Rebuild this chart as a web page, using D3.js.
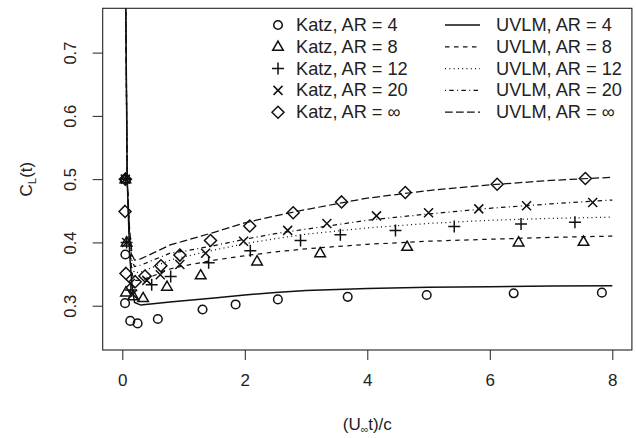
<!DOCTYPE html>
<html>
<head>
<meta charset="utf-8">
<script src="https://cdn.jsdelivr.net/npm/d3@7"></script>
<style>
  html, body { margin: 0; padding: 0; background: #fff; }
  svg { display: block; font-family: "Liberation Sans", Arial, Helvetica, sans-serif; }
</style>
</head>
<body>
<svg id="chart" width="636" height="438"></svg>
<script>
// ---------- data ----------
const xTicks = [0, 2, 4, 6, 8];
const yTicks = [0.3, 0.4, 0.5, 0.6, 0.7];

// Katz reference points
const katzAR4 = [[0.05,0.5],[0.05,0.381],[0.045,0.304],[0.13,0.276],[0.25,0.272],[0.58,0.279],[1.31,0.294],[1.85,0.302],[2.54,0.31],[3.68,0.314],[4.97,0.317],[6.39,0.3196],[7.83,0.3206]];
const katzAR8 = [[0.05,0.5],[0.07,0.40],[0.06,0.321],[0.18,0.315],[0.34,0.312],[0.73,0.330],[1.28,0.348],[2.2,0.370],[3.23,0.383],[4.65,0.393],[6.47,0.40],[7.53,0.401]];
const katzAR12 = [[0.05,0.5],[0.07,0.40],[0.14,0.325],[0.48,0.333],[0.79,0.346],[1.41,0.368],[2.09,0.387],[2.91,0.403],[3.56,0.412],[4.46,0.419],[5.42,0.425],[6.51,0.429],[7.39,0.432]];
const katzAR20 = [[0.05,0.5],[0.07,0.40],[0.13,0.335],[0.17,0.318],[0.4,0.34],[0.62,0.349],[0.94,0.365],[1.36,0.383],[1.98,0.402],[2.7,0.419],[3.34,0.43],[4.15,0.442],[5.0,0.447],[5.82,0.453],[6.6,0.458],[7.68,0.463]];
const katzARinf = [[0.05,0.5],[0.045,0.449],[0.06,0.351],[0.21,0.338],[0.37,0.347],[0.63,0.363],[0.94,0.38],[1.44,0.403],[2.08,0.426],[2.79,0.447],[3.58,0.464],[4.62,0.479],[6.12,0.492],[7.56,0.501]];

// UVLM curves (shared time grid)
const uvlmT     = [0.05, 0.08, 0.12, 0.16, 0.2, 0.3, 0.5, 0.78, 1, 1.5, 2, 2.5, 3, 4, 5, 6, 7, 8];
const uvlmAR4   = [0.85, 0.50, 0.38, 0.33, 0.305, 0.301, 0.303, 0.306, 0.308, 0.312, 0.317, 0.321, 0.324, 0.327, 0.329, 0.330, 0.331, 0.3316];
const uvlmAR8   = [0.85, 0.50, 0.39, 0.35, 0.340, 0.340, 0.347, 0.358, 0.363, 0.372, 0.379, 0.385, 0.390, 0.397, 0.402, 0.405, 0.408, 0.410];
const uvlmAR12  = [0.85, 0.50, 0.40, 0.36, 0.352, 0.353, 0.361, 0.372, 0.377, 0.388, 0.398, 0.406, 0.413, 0.423, 0.430, 0.435, 0.438, 0.440];
const uvlmAR20  = [0.85, 0.50, 0.41, 0.37, 0.362, 0.364, 0.372, 0.383, 0.386, 0.395, 0.405, 0.414, 0.421, 0.435, 0.445, 0.454, 0.461, 0.467];
const uvlmARinf = [0.85, 0.50, 0.42, 0.38, 0.372, 0.374, 0.383, 0.396, 0.402, 0.416, 0.431, 0.442, 0.452, 0.470, 0.482, 0.491, 0.498, 0.503];

const katzLabels = ["Katz, AR = 4", "Katz, AR = 8", "Katz, AR = 12", "Katz, AR = 20", "Katz, AR = \u221E"];
const uvlmLabels = ["UVLM, AR = 4", "UVLM, AR = 8", "UVLM, AR = 12", "UVLM, AR = 20", "UVLM, AR = \u221E"];
const markerTypes = ["circle", "triangle", "plus", "cross", "diamond"];
const dashTypes = [null, "4.5,4.5", "1,3.3", "1,3.3,4.5,3.3", "7.7,3.3"];

// ---------- layout ----------
const svg = d3.select("#chart");
const L = 102.7, R = 631.9, T = 8.3, B = 350;
const x = d3.scaleLinear().domain([-0.32, 8.32]).range([L, R]);
const y = d3.scaleLinear().domain([0.23, 0.77]).range([B, T]);

svg.append("defs").append("clipPath").attr("id", "clip")
  .append("rect").attr("x", L).attr("y", T).attr("width", R - L).attr("height", B - T);

// marker drawing
function marker(g, type, cx, cy) {
  const s = g.append("path").attr("fill", "none").attr("stroke", "#111").attr("stroke-width", 1.5);
  let d;
  if (type === "circle") {
    const r = 4.3;
    d = `M${cx - r},${cy} a${r},${r} 0 1,0 ${2 * r},0 a${r},${r} 0 1,0 ${-2 * r},0Z`;
  } else if (type === "triangle") {
    const w = 5.3, hTop = 5.7, hBot = 3.5;
    d = `M${cx},${cy - hTop} L${cx + w},${cy + hBot} L${cx - w},${cy + hBot}Z`;
  } else if (type === "plus") {
    const a = 6;
    d = `M${cx - a},${cy} H${cx + a} M${cx},${cy - a} V${cy + a}`;
  } else if (type === "cross") {
    const a = 4.5;
    d = `M${cx - a},${cy - a} L${cx + a},${cy + a} M${cx - a},${cy + a} L${cx + a},${cy - a}`;
  } else {
    const a = 6;
    d = `M${cx},${cy - a} L${cx + a},${cy} L${cx},${cy + a} L${cx - a},${cy}Z`;
  }
  s.attr("d", d);
}

// ---------- lines ----------
const uvlmSeries = [uvlmAR4, uvlmAR8, uvlmAR12, uvlmAR20, uvlmARinf];
const line = d3.line().x(d => x(d[0])).y(d => y(d[1]));
const plot = svg.append("g").attr("clip-path", "url(#clip)");
uvlmSeries.forEach((vals, i) => {
  plot.append("path")
    .attr("d", line(uvlmT.map((t, k) => [t, vals[k]])))
    .attr("fill", "none")
    .attr("stroke", "#111")
    .attr("stroke-width", i === 0 ? 1.5 : 1.25)
    .attr("stroke-dasharray", dashTypes[i]);
});

// ---------- points ----------
const katzSeries = [katzAR4, katzAR8, katzAR12, katzAR20, katzARinf];
const pts = plot.append("g");
katzSeries.forEach((arr, i) => {
  arr.forEach(p => marker(pts, markerTypes[i], x(p[0]), y(p[1])));
});

// ---------- box ----------
svg.append("rect").attr("x", L).attr("y", T).attr("width", R - L).attr("height", B - T)
  .attr("fill", "none").attr("stroke", "#222").attr("stroke-width", 1.1);

// ---------- axes ----------
const xAxis = svg.append("g").attr("transform", `translate(0,${B})`)
  .call(d3.axisBottom(x).tickValues(xTicks).tickSize(10).tickSizeOuter(0).tickPadding(14).tickFormat(d3.format("d")));
xAxis.select(".domain").remove();
xAxis.selectAll("line").attr("stroke", "#222");
xAxis.selectAll("text").attr("font-size", 17).attr("fill", "#222").attr("font-family", "Liberation Sans, Arial, sans-serif");

const yAxis = svg.append("g").attr("transform", `translate(${L},0)`)
  .call(d3.axisLeft(y).tickValues(yTicks).tickSize(10).tickSizeOuter(0).tickFormat(d3.format(".1f")));
yAxis.select(".domain").remove();
yAxis.selectAll("line").attr("stroke", "#222");
yAxis.selectAll("text")
  .attr("font-size", 16.5).attr("fill", "#222").attr("font-family", "Liberation Sans, Arial, sans-serif")
  .attr("text-anchor", "middle").attr("dy", null).attr("x", null)
  .attr("transform", "translate(-33,0) rotate(-90)")
  .attr("dominant-baseline", "central");

// axis titles
svg.append("text")
  .attr("x", (L + R) / 2).attr("y", 430)
  .attr("text-anchor", "middle").attr("font-size", 17).attr("fill", "#222")
  .html('(U<tspan font-size="10.5" dy="3">\u221E</tspan><tspan dy="-3">t)/c</tspan>');

svg.append("text")
  .attr("transform", `translate(32,${(T + B) / 2}) rotate(-90)`)
  .attr("text-anchor", "middle").attr("font-size", 17).attr("fill", "#222")
  .html('C<tspan font-size="11.5" dy="4">L</tspan><tspan dy="-4">(t)</tspan>');

// ---------- legend ----------
const rowY = d3.range(5).map(i => 25 + i * 21.8);
const leg = svg.append("g");
katzLabels.forEach((lab, i) => {
  marker(leg, markerTypes[i], 278, rowY[i]);
  leg.append("text").attr("x", 296).attr("y", rowY[i]).attr("dominant-baseline", "central")
    .attr("font-size", 18.2).attr("fill", "#222").text(lab);
});
uvlmLabels.forEach((lab, i) => {
  leg.append("line").attr("x1", 445).attr("x2", 480).attr("y1", rowY[i]).attr("y2", rowY[i])
    .attr("stroke", "#111").attr("stroke-width", i === 0 ? 1.5 : 1.25).attr("stroke-dasharray", dashTypes[i]);
  leg.append("text").attr("x", 496).attr("y", rowY[i]).attr("dominant-baseline", "central")
    .attr("font-size", 18.2).attr("fill", "#222").text(lab);
});
</script>
</body>
</html>
